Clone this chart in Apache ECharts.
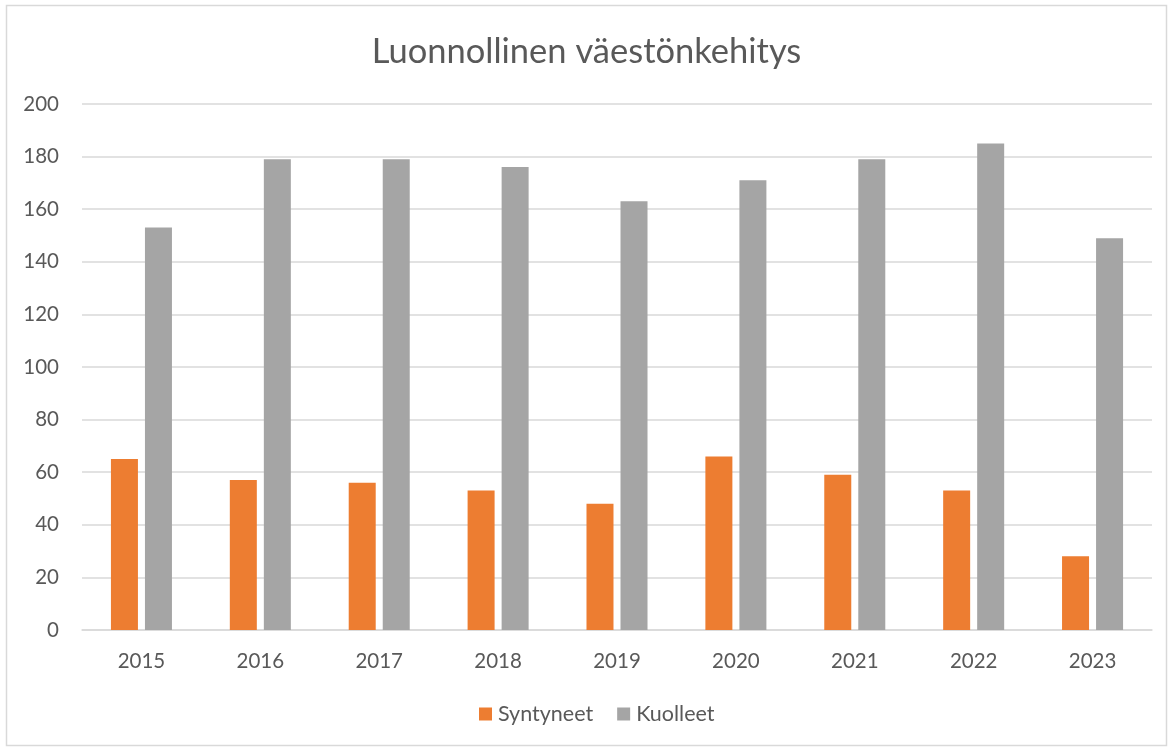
<!DOCTYPE html>
<html><head><meta charset="utf-8">
<script src="https://cdn.jsdelivr.net/npm/echarts@6/dist/echarts.min.js"></script>
<style>html,body{margin:0;padding:0;background:#fff}#c{width:1173px;height:751px}</style>
</head><body><div id="c"></div>
<script>
const categories = ['2015','2016','2017','2018','2019','2020','2021','2022','2023'];
const syntyneet = [65,57,56,53,48,66,59,53,28];
const kuolleet = [153,179,179,176,163,171,179,185,149];
const yTicks = {min:0, max:200, interval:20};

const chart = echarts.init(document.getElementById('c'));
const font = 'Lato, "Open Sans", sans-serif';
chart.setOption({
  animation:false,
  textStyle:{fontFamily:font},
  graphic:[{type:'rect', shape:{x:6.5,y:5.5,width:1160,height:740}, style:{fill:'none', stroke:'#d9d9d9', lineWidth:1.5}, silent:true}],
  title:{text:'Luonnollinen väestönkehitys', left:'center', top:29, textStyle:{fontFamily:font, fontSize:34.5, fontWeight:'normal', color:'#595959'}},
  legend:{bottom:21, left:474, itemWidth:13, itemHeight:13, itemGap:24, itemStyle:{borderWidth:0}, icon:'rect',
    textStyle:{fontFamily:font, fontSize:21.5, color:'#595959', padding:[0,0,0,1]}},
  grid:{left:82, right:21, top:104, bottom:121},
  xAxis:{type:'category', data:categories,
    axisLine:{lineStyle:{color:'#d9d9d9', width:1.5}}, axisTick:{show:false},
    axisLabel:{fontFamily:font, fontSize:20.5, color:'#595959', margin:21}},
  yAxis:{type:'value', min:yTicks.min, max:yTicks.max, interval:yTicks.interval,
    axisLine:{show:false}, axisTick:{show:false},
    splitLine:{lineStyle:{color:'#d9d9d9', width:1.5}},
    axisLabel:{fontFamily:font, fontSize:20.5, color:'#595959', margin:23}},
  series:[
    {name:'Syntyneet', type:'bar', data:syntyneet, barWidth:27, barGap:'26%', itemStyle:{color:'#ed7d31'}},
    {name:'Kuolleet', type:'bar', data:kuolleet, barWidth:27, itemStyle:{color:'#a5a5a5'}}
  ]
});
</script></body></html>
